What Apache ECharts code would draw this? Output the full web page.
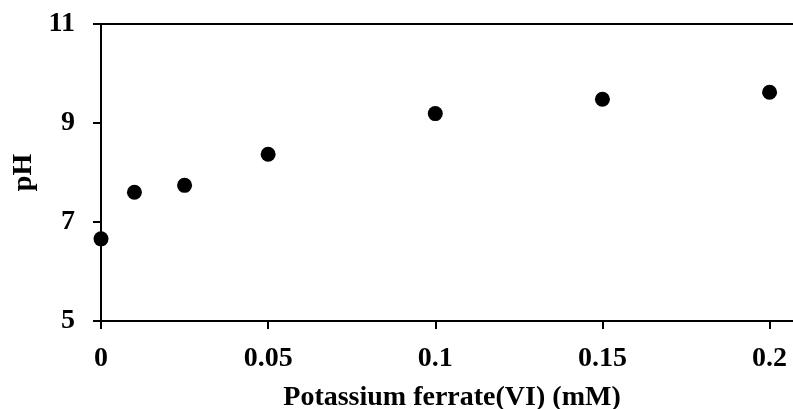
<!DOCTYPE html>
<html>
<head>
<meta charset="utf-8">
<script src="https://cdn.jsdelivr.net/npm/echarts@6/dist/echarts.min.js"></script>
<style>html,body{margin:0;padding:0;background:#fff;}#c{width:793px;height:409px;}</style>
</head>
<body>
<div id="c"></div>
<script>
const concentrations = [0, 0.01, 0.025, 0.05, 0.1, 0.15, 0.2];
const phValues = [6.66, 7.60, 7.74, 8.37, 9.19, 9.48, 9.62];
const xTitle = 'Potassium ferrate(VI) (mM)';
const yTitle = 'pH';

const font = '"Liberation Serif", "Times New Roman", serif';
const chart = echarts.init(document.getElementById('c'));
chart.setOption({
  animation: false,
  backgroundColor: '#fff',
  grid: { left: 101, right: -10, top: 24, bottom: 88, containLabel: false, outerBoundsMode: 'none', show: true, borderColor: '#000', borderWidth: 2, backgroundColor: 'transparent' },
  xAxis: {
    type: 'value', min: 0, max: 0.21, interval: 0.05,
    name: xTitle, nameLocation: 'middle', nameGap: 63,
    nameTextStyle: { fontFamily: font, fontWeight: 'bold', fontSize: 28, color: '#000' },
    axisLine: { lineStyle: { color: '#000', width: 2 } },
    axisTick: { show: true, length: 8, lineStyle: { color: '#000', width: 2 } },
    axisLabel: { showMaxLabel: false, margin: 24, fontFamily: font, fontWeight: 'bold', fontSize: 28, color: '#000' },
    splitLine: { show: false }
  },
  yAxis: {
    type: 'value', min: 5, max: 11, interval: 2,
    name: yTitle, nameLocation: 'middle', nameGap: 62, nameRotate: 90,
    nameTextStyle: { fontFamily: font, fontWeight: 'bold', fontSize: 28, color: '#000' },
    axisLine: { show: true, lineStyle: { color: '#000', width: 2 } },
    axisTick: { show: true, length: 8, lineStyle: { color: '#000', width: 2 } },
    axisLabel: { margin: 26, fontFamily: font, fontWeight: 'bold', fontSize: 28, color: '#000' },
    splitLine: { show: false }
  },
  series: [{
    type: 'scatter',
    data: concentrations.map((x, i) => [x, phValues[i]]),
    symbol: 'circle', symbolSize: 15,
    itemStyle: { color: '#000', opacity: 1 }
  }]
});
</script>
</body>
</html>
